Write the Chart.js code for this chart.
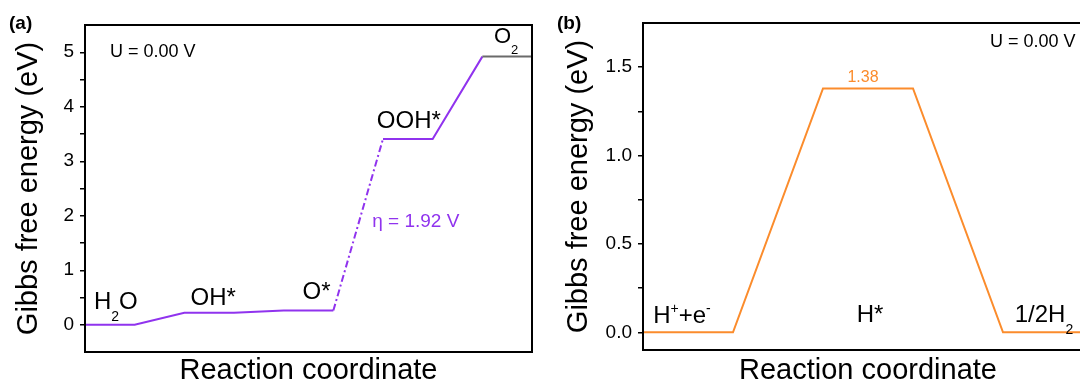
<!DOCTYPE html>
<html>
<head>
<meta charset="utf-8">
<script src="https://cdn.jsdelivr.net/npm/chart.js@4"></script>
<style>
  html, body { margin: 0; padding: 0; background: #fff; overflow: hidden; }
  body { width: 1080px; height: 388px; position: relative; font-family: Arial, "Liberation Sans", sans-serif; }
  .panel { position: absolute; top: 0; height: 388px; }
  #wrapA { left: 0; width: 540px; }
  #wrapB { left: 540px; width: 560px; }
  .tag { position: absolute; top: 12px; font-weight: bold; font-size: 19px; color: #000; }
</style>
</head>
<body>
<div class="panel" id="wrapA"><canvas id="oerChart" width="540" height="388"></canvas></div>
<div class="panel" id="wrapB"><canvas id="herChart" width="560" height="388"></canvas></div>
<div class="tag" style="left:9px">(a)</div>
<div class="tag" style="left:557px">(b)</div>
<script>
// OER free energy levels at U = 0 V
const oerSteps = ['H2O', 'OH*', 'O*', 'OOH*', 'O2'];
const oerEnergy = [0, 0.22, 0.26, 3.41, 4.92];
const oerTicks = ['0', '1', '2', '3', '4', '5'];

// HER free energy levels
const herSteps = ['H+ + e-', 'H*', '1/2H2'];
const herEnergy = [0, 1.38, 0];
const herTicks = ['0.0', '0.5', '1.0', '1.5'];

const PURPLE = '#9033ee';
const ORANGE = '#fb8c2c';
const FONT = 'Arial, "Liberation Sans", sans-serif';

// every level is a flat piece of width 1, joined by a slope of width 1
function levelPoints(energies) {
    const pts = [];
    energies.forEach((e, i) => {
        pts.push({x: 2 * i, y: e});
        pts.push({x: 2 * i + 1, y: e});
    });
    return pts;
}

// biggest uphill step -> dotted segment (potential determining step)
const steps = oerEnergy.slice(1).map((e, i) => e - oerEnergy[i]);
const pdsIndex = steps.indexOf(Math.max(...steps));
const eta = Math.max(...steps) - 1.23;

// draw text made of parts, some of them sub/superscript
function drawParts(ctx, parts, cx, y, size, color, align) {
    const fontOf = p => (p.sub || p.sup ? Math.round(size * 0.6) : size) + 'px ' + FONT;
    const widths = parts.map(p => { ctx.font = fontOf(p); return ctx.measureText(p.t).width; });
    const total = widths.reduce((a, b) => a + b, 0);
    let x = align === 'left' ? cx : cx - total / 2;
    ctx.fillStyle = color;
    ctx.textAlign = 'left';
    ctx.textBaseline = 'alphabetic';
    parts.forEach((p, i) => {
        ctx.font = fontOf(p);
        let dy = 0;
        if (p.sub) dy = size * 0.5;
        if (p.sup) dy = -size * 0.42;
        ctx.fillText(p.t, x, y + dy);
        x += widths[i];
    });
}

const annotate = {
    id: 'annotate',
    afterDatasetsDraw(chart, args, opts) {
        const {ctx, chartArea, scales: {x, y}} = chart;
        ctx.save();
        ctx.strokeStyle = '#000';
        ctx.lineWidth = 2;
        ctx.strokeRect(chartArea.left, chartArea.top, chartArea.width, chartArea.height);
        opts.labels.forEach(l => {
            const px = l.px !== undefined ? l.px : x.getPixelForValue(l.x) + (l.dx || 0);
            const py = l.py !== undefined ? l.py : y.getPixelForValue(l.y) + (l.dy || 0);
            drawParts(ctx, l.parts, px, py, l.size, l.color || '#000', l.align);
        });
        ctx.restore();
    }
};

function yGrid(min, max) {
    return {
        drawOnChartArea: false,
        drawTicks: true,
        tickLength: 5,
        lineWidth: 1.5,
        color: c => (c.tick && (c.tick.value === min || c.tick.value === max)) ? 'rgba(0,0,0,0)' : '#000'
    };
}

function xScale(max, h) {
    return {
        type: 'linear', min: 0, max: max,
        ticks: {display: false},
        grid: {display: false},
        border: {display: false},
        title: {display: true, text: 'Reaction coordinate', color: '#000',
                font: {family: FONT, size: 29}, padding: {top: 0, bottom: 0}},
        afterFit: s => { s.height = h; }
    };
}

// (a) OER
new Chart(document.getElementById('oerChart'), {
    type: 'line',
    data: {
        datasets: [{
            data: levelPoints(oerEnergy),
            borderColor: PURPLE,
            borderWidth: 2,
            pointRadius: 0,
            segment: {
                borderDash: c => c.p0DataIndex === 2 * pdsIndex + 1 ? [7, 3, 2, 3] : undefined,
                borderColor: c => c.p0DataIndex === 2 * (oerEnergy.length - 1) ? '#6a6a6a' : undefined
            }
        }]
    },
    options: {
        responsive: false,
        animation: false,
        layout: {padding: {top: 25, right: 8, left: 0, bottom: 0}},
        scales: {
            x: xScale(2 * oerEnergy.length - 1, 36),
            y: {
                type: 'linear', min: -0.5, max: 5.5,
                ticks: {stepSize: 0.5, autoSkip: false, color: '#000', padding: 6,
                        font: {family: FONT, size: 19},
                        callback: v => oerTicks.includes(String(v)) ? String(v) : ''},
                grid: yGrid(-0.5, 5.5),
                border: {display: false},
                title: {display: true, text: 'Gibbs free energy (eV)', color: '#000',
                        font: {family: FONT, size: 29}, padding: {top: 12, bottom: 0}},
                afterFit: s => { s.width = 85; }
            }
        },
        plugins: {
            legend: {display: false},
            tooltip: {enabled: false},
            annotate: {
                labels: [
                    {x: 0.5, y: oerEnergy[0], dx: 6, dy: -16, size: 24, parts: [{t: 'H'}, {t: '2', sub: true}, {t: 'O'}]},
                    {x: 2.5, y: oerEnergy[1], dx: 4, dy: -8, size: 24, parts: [{t: oerSteps[1]}]},
                    {x: 4.5, y: oerEnergy[2], dx: 8, dy: -12, size: 24, parts: [{t: oerSteps[2]}]},
                    {x: 6.5, y: oerEnergy[3], dx: 1, dy: -11, size: 24, parts: [{t: oerSteps[3]}]},
                    {x: 8.5, y: oerEnergy[4], dx: -1, dy: -14, size: 22, parts: [{t: 'O'}, {t: '2', sub: true}]},
                    {x: 2 * pdsIndex + 1.5, y: (oerEnergy[pdsIndex] + oerEnergy[pdsIndex + 1]) / 2, dx: 14, dy: 2,
                     size: 19, color: PURPLE, align: 'left', parts: [{t: 'η = ' + eta.toFixed(2) + ' V'}]},
                    {px: 110, py: 57, size: 18, align: 'left', parts: [{t: 'U = 0.00 V'}]}
                ]
            }
        }
    },
    plugins: [annotate]
});

// (b) HER
new Chart(document.getElementById('herChart'), {
    type: 'line',
    data: {
        datasets: [{
            data: levelPoints(herEnergy),
            borderColor: ORANGE,
            borderWidth: 2,
            pointRadius: 0
        }]
    },
    options: {
        responsive: false,
        animation: false,
        layout: {padding: {top: 23, right: 7, left: 0, bottom: 0}},
        scales: {
            x: xScale(2 * herEnergy.length - 1, 38),
            y: {
                type: 'linear', min: -0.1, max: 1.75,
                ticks: {stepSize: 0.25, includeBounds: false, autoSkip: false, color: '#000', padding: 6,
                        font: {family: FONT, size: 19},
                        callback: v => herTicks.includes(v.toFixed(1)) && Math.abs(v * 2 - Math.round(v * 2)) < 1e-9 ? v.toFixed(1) : ''},
                grid: yGrid(-0.1, 1.75),
                border: {display: false},
                title: {display: true, text: 'Gibbs free energy (eV)', color: '#000',
                        font: {family: FONT, size: 29}, padding: {top: 22, bottom: 0}},
                afterFit: s => { s.width = 103; }
            }
        },
        plugins: {
            legend: {display: false},
            tooltip: {enabled: false},
            annotate: {
                labels: [
                    {x: 0.5, y: 0, dx: -6, dy: -9, size: 24, parts: [{t: 'H'}, {t: '+', sup: true}, {t: '+e'}, {t: '-', sup: true}]},
                    {x: 2.5, y: 0, dx: 2, dy: -10, size: 24, parts: [{t: herSteps[1]}]},
                    {x: 4.5, y: 0, dx: -4, dy: -10, size: 24, parts: [{t: '1/2H'}, {t: '2', sub: true}]},
                    {x: 2.5, y: herEnergy[1], dx: -5, dy: -6, size: 16, color: ORANGE, parts: [{t: herEnergy[1].toFixed(2)}]},
                    {px: 450, py: 47, size: 18, align: 'left', parts: [{t: 'U = 0.00 V'}]}
                ]
            }
        }
    },
    plugins: [annotate]
});
</script>
</body>
</html>
